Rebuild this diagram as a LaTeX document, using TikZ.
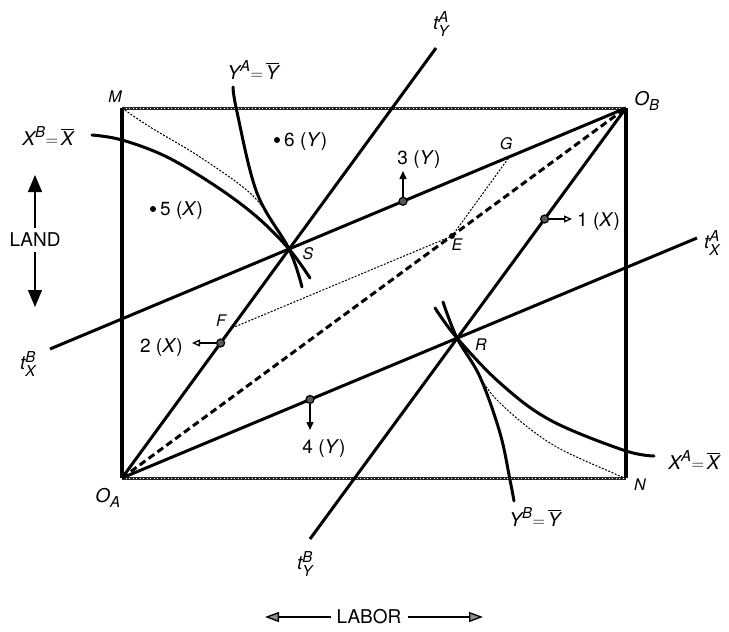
\documentclass[tikz,border=0pt]{standalone}
\usepackage{amsmath}
\usepackage{fontspec}
\setmainfont{TeX Gyre Heros}
\usetikzlibrary{arrows.meta,calc}
\newcommand{\iv}[1]{\mbox{\itshape #1}}
\newcommand{\sv}[1]{\mbox{\fontsize{15}{17}\selectfont\itshape #1}}
\begin{document}
\begin{tikzpicture}[x=1pt,y=-1pt,
  thk/.style={line width=3pt},
  crv/.style={line width=3pt, line cap=round},
  dotl/.style={line width=1pt, dash pattern=on 2pt off 1.5pt},
  boxedge/.style={line width=3pt, draw=black!85},
  speck/.style={line width=0.7pt, draw=white, dash pattern=on 1pt off 2.5pt},
  lbl/.style={font=\fontsize{19}{22}\selectfont, inner sep=0pt},
  ptlbl/.style={font=\fontsize{16}{18}\selectfont\itshape, inner sep=0pt},
  mk/.style={circle, draw, fill=black!65, line width=1.2pt, minimum size=8pt, inner sep=0pt},
  dotmk/.style={circle, fill, minimum size=6pt, inner sep=0pt},
  arr/.style={line width=1.3pt},
  ]
\useasboundingbox (0,0) rectangle (729,632);
% key points
\coordinate (OA) at (122,478);
\coordinate (OB) at (626,108);
\coordinate (M) at (122,108);
\coordinate (N) at (626,478);
\coordinate (tYAe) at (436,48);
\coordinate (tXBe) at (50,349);
\coordinate (tXAe) at (697,238);
\coordinate (tYBe) at (310,539);
\coordinate (S) at (289,249);
\coordinate (R) at (457,338);
\coordinate (E) at (452,236);
\coordinate (F) at (232,328);
\coordinate (G) at (510,156);
% box
\draw[boxedge] (M) -- (OB);
\draw[speck] (M) -- (OB);
\draw[boxedge] (OA) -- (N);
\draw[speck] (OA) -- (N);
\draw[line width=3.4pt] (M) -- (OA);
\draw[line width=3.4pt] (OB) -- (N);
% diagonal
\draw[line width=3pt, dash pattern=on 7pt off 4pt] (OA) -- (OB);
% dotted construction lines
\draw[dotl] (F) -- (E) -- (G);
\fill (E) circle (3pt);
\draw[dotl] plot[smooth, tension=0.6] coordinates {(122,108) (150,127) (200,157) (250,193) (273,223) (289,249)};
\draw[dotl] plot[smooth, tension=0.6] coordinates {(460,345) (473,365) (497,400) (550,443) (613,473) (626,478)};
% rays
\draw[thk] (OA) -- (tYAe);
\draw[thk] (tXBe) -- (OB);
\draw[thk] (OA) -- (tXAe);
\draw[thk] (tYBe) -- (OB);
% isoquants
\draw[crv] plot[smooth, tension=0.6] coordinates {(92,135) (122,140) (167,157) (217,187) (257,217) (289,249) (310,278)};
\draw[crv] plot[smooth, tension=0.6] coordinates {(233,87) (237,112) (257,193) (289,249) (302,287)};
\draw[crv] plot[smooth, tension=0.6] coordinates {(435,308) (457,338) (500,383) (550,420) (623,450) (654,456)};
\draw[crv] plot[smooth, tension=0.6] coordinates {(443,302) (457,338) (480,377) (500,433) (510,480) (514,501)};
% markers and arrows
\node[mk] (m1) at (544.6,219) {};
\node[mk] (m2) at (220.6,343) {};
\node[mk] (m3) at (403,201.3) {};
\node[mk] (m4) at (310,399.5) {};
\coordinate (a1) at (572,219);
\coordinate (a2) at (192,343);
\coordinate (a3) at (403,171);
\coordinate (a4) at (310,430);
\draw[arr, -{Triangle[open, length=8pt, width=7pt]}] (m1) -- (a1);
\draw[arr, -{Triangle[open, length=8pt, width=7pt]}] (m2) -- (a2);
\draw[arr, -{Triangle[length=8pt, width=7pt]}] (m3) -- (a3);
\draw[arr, -{Triangle[length=8pt, width=7pt]}] (m4) -- (a4);
\node[lbl, anchor=west] (l1) at (577,222) {1 (\textit{X})};
\node[lbl, anchor=east] (l2) at (183,348) {2 (\textit{X})};
\node[lbl] (l3) at (419,160) {3 (\textit{Y})};
\node[lbl] (l4) at (324,449) {4 (\textit{Y})};
\node[dotmk] (d5) at (153,209) {};
\node[lbl, anchor=west] (l5) at (160,211) {5 (\textit{X})};
\node[dotmk] (d6) at (277,140) {};
\node[lbl, anchor=west] (l6) at (284,142) {6 (\textit{Y})};
% point labels
\node[ptlbl] (lM) at (115,97) {M};
\node[ptlbl] (lN) at (640,485) {N};
\node[ptlbl] (lS) at (308,254) {S};
\node[ptlbl] (lR) at (481,345) {R};
\node[ptlbl] (lE) at (457,245) {E};
\node[ptlbl] (lG) at (506,144) {G};
\node[ptlbl] (lF) at (221,321) {F};
\node[lbl] (lOB) at (647,101) {$\iv{O}_{\sv{B}}$};
\node[lbl] (lOA) at (108,498) {$\iv{O}_{\sv{A}}$};
% ray labels
\node[lbl] (ltYA) at (441,24) {$\iv{t}^{\sv{A}}_{\sv{Y}}$};
\node[lbl] (ltXA) at (712,243) {$\iv{t}^{\sv{A}}_{\sv{X}}$};
\node[lbl] (ltXB) at (28,364) {$\iv{t}^{\sv{B}}_{\sv{X}}$};
\node[lbl] (ltYB) at (305,564) {$\iv{t}^{\sv{B}}_{\sv{Y}}$};
% curve labels
\node[lbl] (lYA) at (253,70) {$\iv{Y}^{\sv{A}}{=}\,\overline{\iv{Y}}$};
\node[lbl] (lXB) at (48,136) {$\iv{X}^{\sv{B}}{=}\,\overline{\iv{X}}$};
\node[lbl] (lXA) at (694,460) {$\iv{X}^{\sv{A}}{=}\,\overline{\iv{X}}$};
\node[lbl] (lYB) at (535,517) {$\iv{Y}^{\sv{B}}{=}\,\overline{\iv{Y}}$};
% axes
\node[lbl] (land) at (35,240) {LAND};
\coordinate (landT) at (35,175);
\coordinate (landB) at (35,307);
\draw[arr, -{Triangle[length=17pt, width=14pt]}] (land.north) ++(0,-5) -- (landT);
\draw[arr, -{Triangle[length=17pt, width=14pt]}] (land.south) ++(0,5) -- (landB);
\node[lbl] (labor) at (369,617) {LABOR};
\coordinate (laborL) at (265,617);
\coordinate (laborR) at (483,617);
\draw[arr, -{Triangle[length=14pt, width=10pt, fill=black!45]}] (labor.west) ++(-6,0) -- (laborL);
\draw[arr, -{Triangle[length=14pt, width=10pt, fill=black!45]}] (labor.east) ++(6,0) -- (laborR);
\end{tikzpicture}
\end{document}
